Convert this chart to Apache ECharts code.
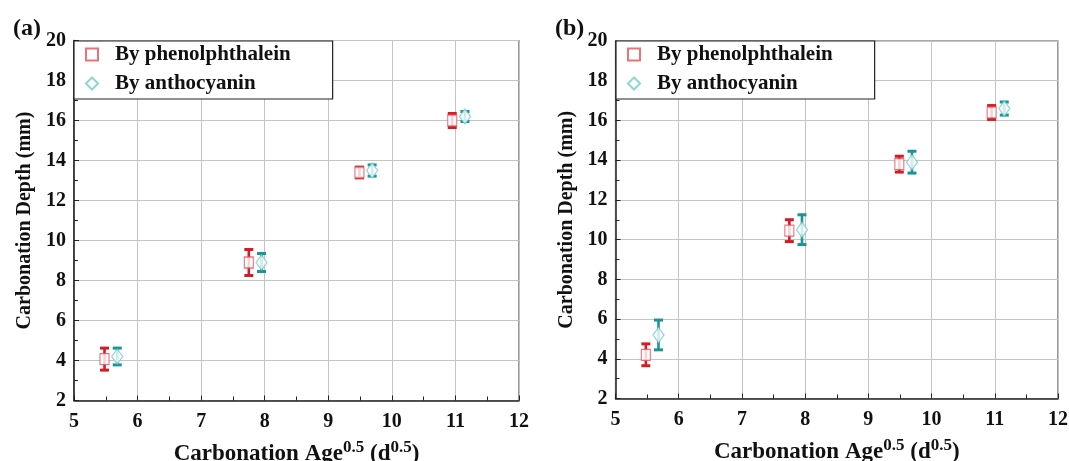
<!DOCTYPE html>
<html><head><meta charset="utf-8">
<script src="https://cdn.jsdelivr.net/npm/echarts@6/dist/echarts.min.js"></script>
<style>html,body{margin:0;padding:0;background:#fff}#c{width:1069px;height:461px}</style>
</head><body><div id="c"></div>
<script>
// Carbonation age^0.5 (d^0.5); anthocyanin points drawn shifted by +0.2 in the source
const agePhen = [5.48, 7.75, 9.49, 10.95];
const ageAnth = [5.68, 7.95, 9.69, 11.15];
// Panel (a)
const aPhen = [4.07, 8.9, 13.4, 16.0];
const aPhenErr = [0.6, 0.7, 0.32, 0.4];
const aAnth = [4.2, 8.9, 13.5, 16.2];
const aAnthErr = [0.47, 0.5, 0.33, 0.3];
// Panel (b)
const bPhen = [4.2, 10.45, 13.8, 16.4];
const bPhenErr = [0.6, 0.6, 0.45, 0.4];
const bAnth = [5.2, 10.5, 13.9, 16.6];
const bAnthErr = [0.8, 0.8, 0.6, 0.38];
const names = ['By phenolphthalein', 'By anthocyanin'];
const panelLabels = ['(a)', '(b)'];
const xTitle = '{b|Carbonation Age}{s|0.5}{b| (d}{s|0.5}{b|)}';
const yTitle = 'Carbonation Depth (mm)';

const FONT = '"Liberation Serif", "Times New Roman", serif';
const RED = '#d41c26', RED_M = '#e4505a';
const TEAL = '#1a9494', TEAL_M = '#72cccc';

function errData(xs, ys, es) { return xs.map((x, i) => [x, ys[i] - es[i], ys[i] + es[i]]); }
function ptData(xs, ys) { return xs.map((x, i) => [x, ys[i]]); }
function errRender(color) {
  return function (params, api) {
    const x = api.value(0), lo = api.value(1), hi = api.value(2);
    const t = api.coord([x, hi]), b = api.coord([x, lo]);
    const w = 4.5;
    return { type: 'group', children: [
      { type: 'line', shape: { x1: t[0], y1: t[1], x2: b[0], y2: b[1] }, style: { stroke: color, lineWidth: 2.6 } },
      { type: 'line', shape: { x1: t[0] - w, y1: t[1] + 1, x2: t[0] + w, y2: t[1] + 1 }, style: { stroke: color, lineWidth: 3 } },
      { type: 'line', shape: { x1: b[0] - w, y1: b[1] - 1, x2: b[0] + w, y2: b[1] - 1 }, style: { stroke: color, lineWidth: 3 } }
    ] };
  };
}

const grids = [
  { left: 74, right: 550, top: 40.5, bottom: 60.5 },
  { left: 615.5, right: 11, top: 41, bottom: 62.5 }
];
const axisLbl = { fontFamily: FONT, fontWeight: 'bold', fontSize: 20, color: '#111' };

const option = {
  animation: false,
  title: panelLabels.map((t, i) => ({ text: t, left: i === 0 ? 8 : 550, top: 12,
    textStyle: { fontFamily: FONT, fontWeight: 'bold', fontSize: 24, color: '#111' } })),
  grid: grids.map(g => Object.assign({ show: true, borderColor: '#555', borderWidth: 1.2, backgroundColor: 'transparent',
    containLabel: false, outerBoundsMode: 'none' }, g)),
  legend: [0, 1].map(i => ({
    data: names.map(n => ({ name: n })),
    orient: 'vertical', left: i === 0 ? 74 : 616, top: 41,
    backgroundColor: '#fff', borderColor: '#222', borderWidth: 1.2,
    padding: [3, 42, 5, 11], itemGap: 8, itemWidth: 12, itemHeight: 12,
    textStyle: { fontFamily: FONT, fontWeight: 'bold', fontSize: 21, color: '#111', padding: [0, 0, 0, 12] },
    z: 10
  })),
  xAxis: [0, 1].map(i => ({
    type: 'value', gridIndex: i, min: 5, max: 12, interval: 1,
    name: xTitle, nameLocation: 'middle', nameGap: 39,
    nameTextStyle: { rich: {
      b: { fontFamily: FONT, fontWeight: 'bold', fontSize: 23, color: '#111' },
      s: { fontFamily: FONT, fontWeight: 'bold', fontSize: 17, color: '#111', padding: [0, 0, 12, 0] }
    } },
    axisLine: { lineStyle: { color: '#222', width: 1.5 } },
    axisTick: { inside: true, length: 5, lineStyle: { color: '#222' } },
    minorTick: { show: true, splitNumber: 2, length: 4, lineStyle: { color: '#222' } },
    axisLabel: Object.assign({ margin: 11 }, axisLbl),
    splitLine: { lineStyle: { color: '#c4c4c4', width: 1 } }
  })),
  yAxis: [0, 1].map(i => ({
    type: 'value', gridIndex: i, min: 2, max: 20, interval: 2,
    name: yTitle, nameLocation: 'middle', nameGap: 39,
    nameTextStyle: { fontFamily: FONT, fontWeight: 'bold', fontSize: 20, color: '#111' },
    axisLine: { show: true, lineStyle: { color: '#222', width: 1.5 } },
    axisTick: { show: true, inside: true, length: 5, lineStyle: { color: '#222' } },
    minorTick: { show: true, splitNumber: 2, length: 4, lineStyle: { color: '#222' } },
    axisLabel: Object.assign({ margin: 8 }, axisLbl),
    splitLine: { lineStyle: { color: '#c4c4c4', width: 1 } }
  })),
  series: []
};

const panels = [
  { phen: aPhen, phenErr: aPhenErr, anth: aAnth, anthErr: aAnthErr },
  { phen: bPhen, phenErr: bPhenErr, anth: bAnth, anthErr: bAnthErr }
];
panels.forEach((p, i) => {
  option.series.push(
    { type: 'custom', name: 'errP' + i, xAxisIndex: i, yAxisIndex: i, renderItem: errRender(RED),
      data: errData(agePhen, p.phen, p.phenErr), z: 3, encode: { x: 0, y: [1, 2] } },
    { type: 'custom', name: 'errA' + i, xAxisIndex: i, yAxisIndex: i, renderItem: errRender(TEAL),
      data: errData(ageAnth, p.anth, p.anthErr), z: 3, encode: { x: 0, y: [1, 2] } },
    { type: 'scatter', name: names[0], xAxisIndex: i, yAxisIndex: i, symbol: 'rect', symbolSize: [9, 11],
      itemStyle: { color: '#fff', borderColor: RED_M, borderWidth: 1.2 }, data: ptData(agePhen, p.phen), z: 5 },
    { type: 'scatter', name: names[1], xAxisIndex: i, yAxisIndex: i, symbol: 'diamond', symbolSize: [11, 15],
      itemStyle: { color: '#fff', borderColor: TEAL_M, borderWidth: 1.2 }, data: ptData(ageAnth, p.anth), z: 5 }
  );
});

const chart = echarts.init(document.getElementById('c'), null, { renderer: 'canvas' });
chart.setOption(option);
</script>
</body></html>
